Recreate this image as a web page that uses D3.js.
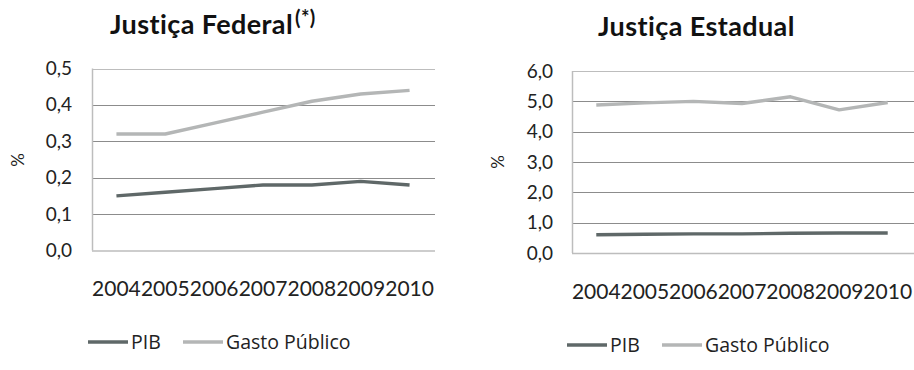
<!DOCTYPE html>
<html>
<head>
<meta charset="utf-8">
<script src="https://cdn.jsdelivr.net/npm/d3@7"></script>
<style>
  html, body { margin: 0; padding: 0; background: #fff; }
  svg { display: block; font-family: Lato, "Open Sans", sans-serif; }
</style>
</head>
<body>
<svg id="chart" width="914" height="370"></svg>
<script>
// Years shared by both panels
const years = ["2004", "2005", "2006", "2007", "2008", "2009", "2010"];

// Justiça Federal: spending as % of PIB and % of public spending
const federalPIB = [0.15, 0.16, 0.17, 0.18, 0.18, 0.19, 0.18];
const federalGasto = [0.32, 0.32, 0.35, 0.38, 0.41, 0.43, 0.44];
const federalTicks = [0, 0.1, 0.2, 0.3, 0.4, 0.5];

// Justiça Estadual
const estadualPIB = [0.60, 0.62, 0.63, 0.63, 0.65, 0.66, 0.66];
const estadualGasto = [4.88, 4.95, 5.0, 4.93, 5.15, 4.72, 4.96];
const estadualTicks = [0, 1, 2, 3, 4, 5, 6];

const seriesNames = ["PIB", "Gasto Público"];
const seriesColors = ["#5f6868", "#b4b6b6"];

const fmt = v => v.toFixed(1).replace(".", ",");

const svg = d3.select("#chart");

function drawPanel(cfg) {
  const g = svg.append("g");
  const x = d3.scaleBand().domain(years).range([cfg.left, cfg.right]);
  const y = d3.scaleLinear().domain([0, d3.max(cfg.ticks)]).range([cfg.bottom, cfg.top]);

  // Title
  const title = g.append("text")
    .attr("x", cfg.titleX).attr("y", cfg.titleY)
    .attr("font-size", 27).attr("font-weight", "bold").attr("fill", "#111")
    .attr("letter-spacing", 0.4)
    .text(cfg.title);
  if (cfg.titleSup) {
    title.append("tspan").attr("font-size", 20).attr("dy", -9).attr("dx", 2).text(cfg.titleSup);
  }

  // Horizontal gridlines
  g.append("g").selectAll("line").data(cfg.ticks.filter(t => t > 0)).join("line")
    .attr("x1", cfg.left).attr("x2", cfg.gridRight)
    .attr("y1", d => Math.round(y(d)) + 0.5).attr("y2", d => Math.round(y(d)) + 0.5)
    .attr("stroke", (d, i, arr) => i === arr.length - 1 ? "#bdbdbd" : "#8c8c8c")
    .attr("stroke-width", 1);

  // Plot frame: left and bottom edges
  g.append("line")
    .attr("x1", cfg.left + 0.5).attr("x2", cfg.left + 0.5)
    .attr("y1", cfg.top).attr("y2", cfg.bottom)
    .attr("stroke", "#bdbdbd").attr("stroke-width", 1.5);
  g.append("line")
    .attr("x1", cfg.left).attr("x2", cfg.gridRight)
    .attr("y1", cfg.bottom + 0.5).attr("y2", cfg.bottom + 0.5)
    .attr("stroke", "#bdbdbd").attr("stroke-width", 1.5);

  // Y tick labels
  const yAxis = d3.axisLeft(y).tickValues(cfg.ticks).tickFormat(fmt).tickSize(0).tickPadding(cfg.yPad);
  const ya = g.append("g").attr("transform", `translate(${cfg.left},0)`).call(yAxis);
  ya.select(".domain").remove();
  ya.selectAll("text").attr("font-size", 19).attr("fill", "#222").attr("font-family", "Lato, sans-serif");

  // X tick labels
  const xAxis = d3.axisBottom(x).tickSize(0).tickPadding(cfg.xPad);
  const xa = g.append("g").attr("transform", `translate(0,${cfg.bottom})`).call(xAxis);
  xa.select(".domain").remove();
  xa.selectAll("text").attr("font-size", 21).attr("fill", "#222").attr("font-family", "Lato, sans-serif");

  // Y axis title
  g.append("text")
    .attr("transform", `translate(${cfg.yTitleX},${cfg.yTitleY}) rotate(-90)`)
    .attr("text-anchor", "middle").attr("font-size", 17).attr("fill", "#222")
    .text("%");

  // Series lines
  const line = d3.line().x((d, i) => x(years[i]) + x.bandwidth() / 2).y(d => y(d));
  [cfg.pib, cfg.gasto].forEach((vals, k) => {
    g.append("path").datum(vals)
      .attr("d", line).attr("fill", "none")
      .attr("stroke", seriesColors[k]).attr("stroke-width", 3.4)
      .attr("stroke-linejoin", "round");
  });

  // Legend
  const lg = g.append("g").attr("transform", `translate(${cfg.legendX},${cfg.legendY})`);
  const offsets = [0, 95];
  seriesNames.forEach((name, k) => {
    const item = lg.append("g").attr("transform", `translate(${offsets[k]},0)`);
    item.append("line").attr("x1", 0).attr("x2", 40).attr("y1", 0).attr("y2", 0)
      .attr("stroke", seriesColors[k]).attr("stroke-width", 3.4);
    item.append("text").attr("x", 43).attr("y", 7)
      .attr("font-family", "'Open Sans', sans-serif")
      .attr("font-size", 19.5).attr("fill", "#222").text(name);
  });
}

drawPanel({
  title: "Justiça Federal", titleSup: "(*)", titleX: 110, titleY: 34,
  left: 92, right: 434, gridRight: 435, top: 68.5, bottom: 250.5,
  ticks: federalTicks, pib: federalPIB, gasto: federalGasto,
  yPad: 20, xPad: 31, yTitleX: 24, yTitleY: 160,
  legendX: 88, legendY: 342
});

drawPanel({
  title: "Justiça Estadual", titleX: 598, titleY: 36,
  left: 572, right: 912, gridRight: 914, top: 71, bottom: 253,
  ticks: estadualTicks, pib: estadualPIB, gasto: estadualGasto,
  yPad: 19, xPad: 31, yTitleX: 504, yTitleY: 162,
  legendX: 567, legendY: 345
});
</script>
</body>
</html>
